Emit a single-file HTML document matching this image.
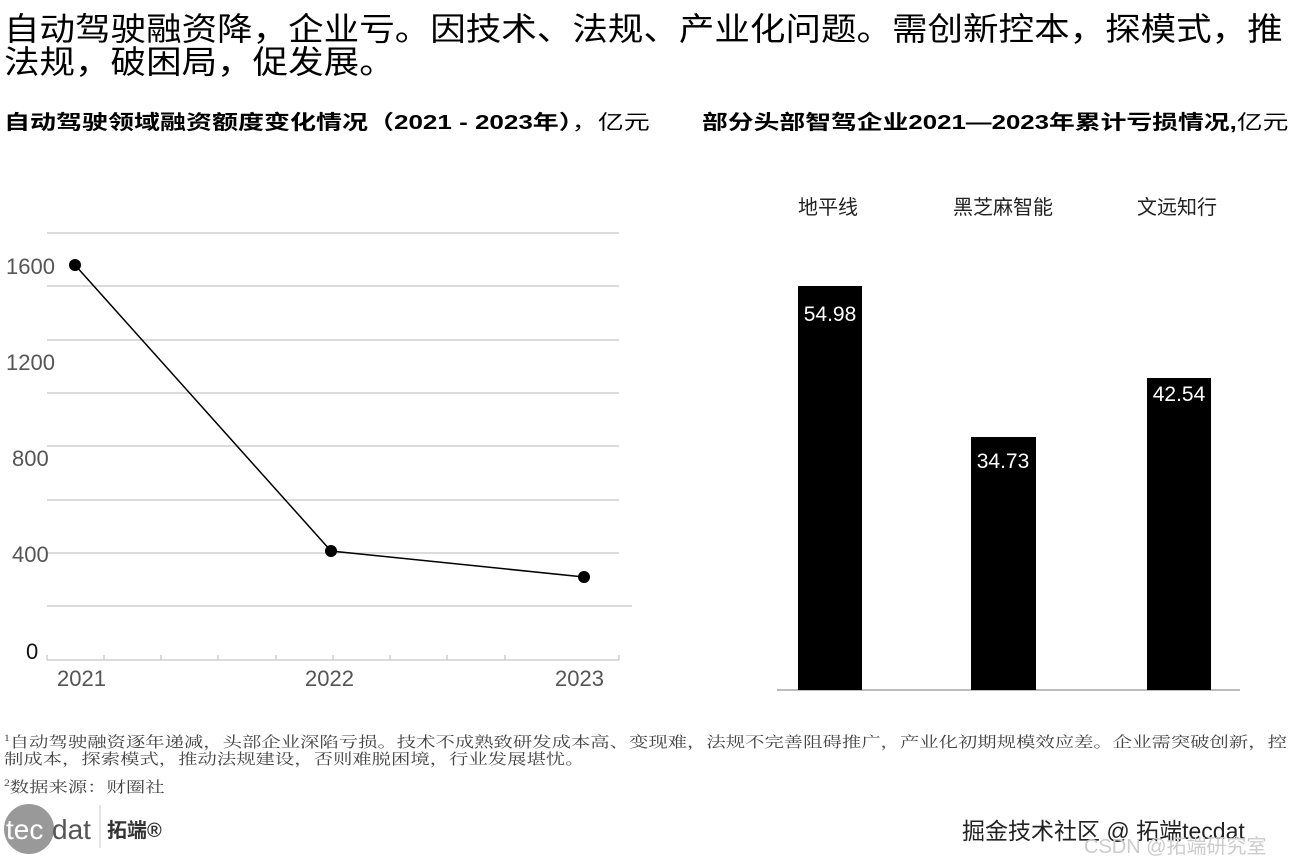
<!DOCTYPE html>
<html><head><meta charset="utf-8"><style>
body{margin:0;width:1298px;height:862px;background:#fff;font-family:"Liberation Sans","Noto Sans CJK SC",sans-serif;position:relative;overflow:hidden}
.a{position:absolute;white-space:nowrap;transform-origin:0 0}
</style></head><body>
<div class="a" style="left:4px;top:13px;font-size:32px;line-height:33px;color:#000;transform:scaleX(1.11)">自动驾驶融资降，企业亏。因技术、法规、产业化问题。需创新控本，探模式，推<br>法规，破困局，促发展。</div>
<div class="a" style="left:4px;top:106px;font-size:20px;font-weight:bold;transform:scaleX(1.3)">自动驾驶领域融资额度变化情况（2021 - 2023年）<span style="font-weight:normal">，亿元</span></div>
<div class="a" style="left:702px;top:106px;font-size:20px;font-weight:bold;transform:scaleX(1.29)">部分头部智驾企业2021—2023年累计亏损情况,<span style="font-weight:normal">亿元</span></div>
<svg class="a" style="left:0;top:0" width="1298" height="862">
<g stroke="#c8c8c8" stroke-width="1.3">
<line x1="47" x2="619" y1="233" y2="233"/><line x1="47" x2="619" y1="286" y2="286"/><line x1="47" x2="619" y1="340" y2="340"/><line x1="47" x2="619" y1="393" y2="393"/><line x1="47" x2="619" y1="446" y2="446"/><line x1="47" x2="619" y1="500" y2="500"/><line x1="47" x2="619" y1="553" y2="553"/><line x1="47" x2="632" y1="606" y2="606"/>
<line x1="47" x2="619" y1="660" y2="660"/>
<line x1="47" x2="47" y1="655" y2="660"/><line x1="104" x2="104" y1="655" y2="660"/><line x1="161" x2="161" y1="655" y2="660"/><line x1="218" x2="218" y1="655" y2="660"/><line x1="276" x2="276" y1="655" y2="660"/><line x1="333" x2="333" y1="655" y2="660"/><line x1="390" x2="390" y1="655" y2="660"/><line x1="447" x2="447" y1="655" y2="660"/><line x1="505" x2="505" y1="655" y2="660"/><line x1="619" x2="619" y1="655" y2="660"/>
<line x1="777" x2="1240" y1="690" y2="690" stroke="#bbb" stroke-width="2"/>
</g>
<polyline points="75,265 331,551 584,577" fill="none" stroke="#000" stroke-width="1.5"/>
<circle cx="75" cy="265" r="6"/><circle cx="331" cy="551" r="6"/><circle cx="584" cy="577" r="6"/>
<g font-size="22" fill="#555" font-family="Liberation Sans,sans-serif">
<text x="6" y="274">1600</text><text x="6" y="370">1200</text><text x="12" y="466">800</text><text x="12" y="562">400</text><text x="26" y="659" fill="#111">0</text>
<text x="57" y="686">2021</text><text x="305" y="686">2022</text><text x="555" y="686">2023</text>
</g>
<rect x="798" y="286" width="64" height="404"/><rect x="971" y="437" width="65" height="253"/><rect x="1147" y="378" width="64" height="312"/>
<g font-size="21" fill="#fff" text-anchor="middle"><text x="830" y="321">54.98</text><text x="1003" y="468">34.73</text><text x="1179" y="401">42.54</text></g>
<g font-size="20" fill="#222" text-anchor="middle" font-family="Liberation Sans,Noto Sans CJK SC,sans-serif"><text x="828" y="214">地平线</text><text x="1003" y="214">黑芝麻智能</text><text x="1177" y="214">文远知行</text></g>
<circle cx="29" cy="829" r="25" fill="#999"/>
<text x="6" y="839" font-size="28" fill="#fff">tec</text><text x="52" y="839" font-size="28" fill="#555">dat</text>
<line x1="100" x2="100" y1="805" y2="848" stroke="#ccc"/>
<text x="107" y="837" font-size="20" font-weight="bold" fill="#333" font-family="Liberation Sans,Noto Sans CJK SC,sans-serif">拓端®</text>
</svg>
<div class="a" style="left:4px;top:730px;font-size:15px;line-height:17px;color:#444;transform:scaleX(1.29);font-family:'Liberation Serif','Noto Serif CJK SC',serif"><sup style="font-size:9px">1</sup>自动驾驶融资逐年递减，头部企业深陷亏损。技术不成熟致研发成本高、变现难，法规不完善阻碍推广，产业化初期规模效应差。企业需突破创新，控<br>制成本，探索模式，推动法规建设，否则难脱困境，行业发展堪忧。</div>
<div class="a" style="left:4px;top:776px;font-size:15px;color:#444;transform:scaleX(1.29);font-family:'Liberation Serif','Noto Serif CJK SC',serif"><sup style="font-size:9px">2</sup>数据来源：财圈社</div>
<div class="a" style="left:962px;top:812px;font-size:23px;color:#222">掘金技术社区 @ 拓端tecdat</div>
<div class="a" style="left:1084px;top:830px;font-size:20px;color:#ccc">CSDN @拓端研究室</div>
</body></html>
